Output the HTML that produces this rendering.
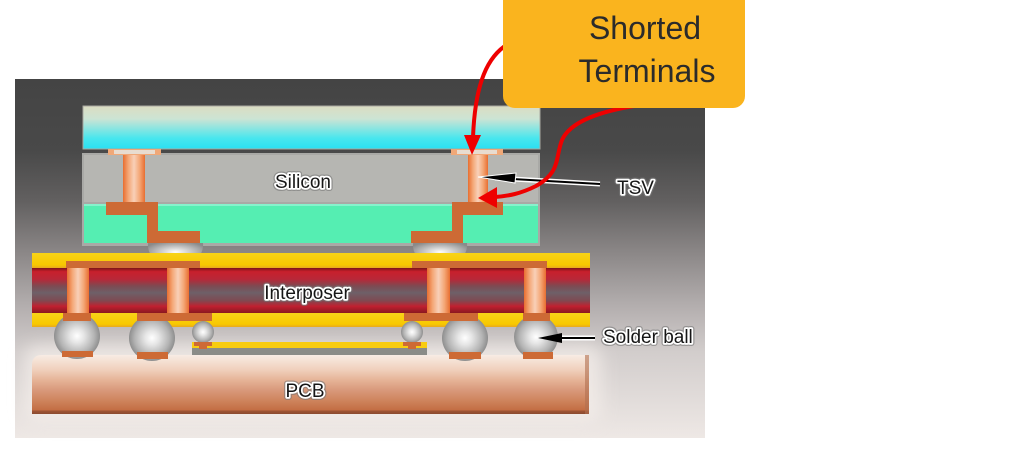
<!DOCTYPE html>
<html><head><meta charset="utf-8"><style>
html,body{margin:0;padding:0;background:#fff;}
svg{display:block;}
text{font-family:"Liberation Sans",Arial,sans-serif;}
</style></head><body>
<svg width="1013" height="457" viewBox="0 0 1013 457" xmlns="http://www.w3.org/2000/svg">
<defs>
<linearGradient id="bg" x1="0" y1="0" x2="0" y2="1">
<stop offset="0" stop-color="#444"/>
<stop offset="0.2" stop-color="#494949"/>
<stop offset="0.34" stop-color="#626060"/>
<stop offset="0.48" stop-color="#8a8686"/>
<stop offset="0.62" stop-color="#b0abab"/>
<stop offset="0.76" stop-color="#d2cdcc"/>
<stop offset="1" stop-color="#eee8e5"/>
</linearGradient>
<linearGradient id="glass" x1="0" y1="0" x2="0" y2="1">
<stop offset="0" stop-color="#dcdcc2"/>
<stop offset="0.3" stop-color="#cce4d4"/>
<stop offset="0.75" stop-color="#48e6ee"/>
<stop offset="1" stop-color="#2ae0f2"/>
</linearGradient>
<linearGradient id="mid" x1="0" y1="0" x2="0" y2="1">
<stop offset="0" stop-color="#7a1418"/>
<stop offset="0.08" stop-color="#c8202c"/>
<stop offset="0.25" stop-color="#b82838"/>
<stop offset="0.4" stop-color="#7e4a52"/>
<stop offset="0.55" stop-color="#6e6068"/>
<stop offset="0.72" stop-color="#7e4a52"/>
<stop offset="0.85" stop-color="#c02030"/>
<stop offset="1" stop-color="#8a1820"/>
</linearGradient>
<linearGradient id="yel" x1="0" y1="0" x2="0" y2="1">
<stop offset="0" stop-color="#f8d418"/>
<stop offset="0.8" stop-color="#f8c800"/>
<stop offset="1" stop-color="#e8a820"/>
</linearGradient>
<linearGradient id="pil" x1="0" y1="0" x2="1" y2="0">
<stop offset="0" stop-color="#e86e30"/>
<stop offset="0.25" stop-color="#f4a878"/>
<stop offset="0.5" stop-color="#f8d0b8"/>
<stop offset="0.75" stop-color="#f4a878"/>
<stop offset="1" stop-color="#e86e30"/>
</linearGradient>
<linearGradient id="pcb" x1="0" y1="0" x2="0" y2="1">
<stop offset="0" stop-color="#f8ece4"/>
<stop offset="0.25" stop-color="#f0d0bc"/>
<stop offset="0.42" stop-color="#e6b498"/>
<stop offset="0.6" stop-color="#d8987a"/>
<stop offset="0.8" stop-color="#cc8058"/>
<stop offset="0.93" stop-color="#c46e44"/>
<stop offset="0.95" stop-color="#9e5434"/>
<stop offset="1" stop-color="#8a4a30"/>
</linearGradient>
<radialGradient id="ball" cx="0.5" cy="0.5" r="0.5">
<stop offset="0" stop-color="#ffffff"/>
<stop offset="0.3" stop-color="#e6e6e6"/>
<stop offset="0.75" stop-color="#b4b4b4"/>
<stop offset="1" stop-color="#8e8e8e"/>
</radialGradient>
<radialGradient id="bump" cx="0.5" cy="0.5" r="0.6">
<stop offset="0" stop-color="#ffffff"/>
<stop offset="0.4" stop-color="#d0d0d0"/>
<stop offset="1" stop-color="#8a8a8a"/>
</radialGradient>
<filter id="blur" x="-10%" y="-30%" width="120%" height="160%">
<feGaussianBlur stdDeviation="8"/>
</filter>
</defs>

<!-- panel -->
<rect x="15" y="79" width="690" height="359" fill="url(#bg)"/>
<rect x="24" y="345" width="578" height="78" rx="14" fill="#f4eeea" opacity="0.75" filter="url(#blur)"/>

<!-- top die -->
<rect x="83" y="106" width="457" height="43" fill="url(#glass)" stroke="#a8a8a0" stroke-width="1"/>
<rect x="82" y="153" width="458" height="93" fill="#a9a9a6"/>
<rect x="84" y="155" width="454" height="47" fill="#b6b6b2"/>
<rect x="84" y="204" width="454" height="39" fill="#55eeb2"/>
<rect x="84" y="204" width="454" height="2" fill="#86f2cc"/>

<!-- left TSV -->
<rect x="108" y="149" width="53" height="6" fill="#f0a878"/>
<rect x="114" y="150" width="41" height="4" fill="#e8dcd0"/>
<rect x="123" y="155" width="22" height="48" fill="url(#pil)"/>
<rect x="106" y="202" width="52" height="13" fill="#cd6a35"/>
<rect x="147" y="214" width="11" height="19" fill="#cd6a35"/>
<rect x="147" y="231" width="53" height="12" fill="#cd6a35"/>

<!-- right TSV -->
<rect x="451" y="149" width="52" height="6" fill="#f0a878"/>
<rect x="457" y="150" width="40" height="4" fill="#e8dcd0"/>
<rect x="468" y="155" width="20" height="48" fill="url(#pil)"/>
<rect x="452" y="202" width="51" height="13" fill="#cd6a35"/>
<rect x="452" y="214" width="11" height="19" fill="#cd6a35"/>
<rect x="411" y="231" width="52" height="12" fill="#cd6a35"/>

<!-- micro bumps -->
<path d="M148,243 L203,243 Q204,254 194,261 L157,261 Q147,254 148,243 Z" fill="url(#bump)"/>
<path d="M413,243 L467,243 Q468,254 458,261 L422,261 Q412,254 413,243 Z" fill="url(#bump)"/>

<!-- interposer -->
<rect x="32" y="253" width="558" height="15" fill="url(#yel)"/>
<rect x="32" y="268" width="558" height="45" fill="url(#mid)"/>
<rect x="32" y="313" width="558" height="14" fill="url(#yel)"/>
<rect x="66" y="261" width="134" height="7" fill="#cd6a35"/>
<rect x="412" y="261" width="135" height="7" fill="#cd6a35"/>
<rect x="67" y="268" width="22" height="45" fill="url(#pil)"/>
<rect x="167" y="268" width="22" height="45" fill="url(#pil)"/>
<rect x="427" y="268" width="23" height="45" fill="url(#pil)"/>
<rect x="524" y="268" width="22" height="45" fill="url(#pil)"/>

<!-- small die substrate -->
<rect x="192" y="342" width="235" height="6" fill="#f8cc10"/>
<rect x="192" y="348" width="235" height="10" fill="#8a8c88"/>

<!-- PCB -->
<path d="M32,365 Q32,355 42,355 L589,355 L589,414 L32,414 Z" fill="url(#pcb)"/>
<rect x="585" y="355" width="4" height="59" fill="#b07050" opacity="0.6"/>

<!-- solder balls -->
<circle cx="77" cy="336" r="23" fill="url(#ball)"/>
<circle cx="152" cy="338" r="23" fill="url(#ball)"/>
<circle cx="465" cy="338" r="23" fill="url(#ball)"/>
<circle cx="536" cy="337" r="22" fill="url(#ball)"/>
<circle cx="203" cy="332" r="11" fill="url(#ball)"/>
<circle cx="412" cy="332" r="11" fill="url(#ball)"/>

<!-- bottom bars -->
<rect x="63" y="313" width="28" height="8" fill="#cd6a35"/>
<rect x="137" y="313" width="75" height="8" fill="#cd6a35"/>
<rect x="404" y="313" width="74" height="8" fill="#cd6a35"/>
<rect x="523" y="313" width="27" height="8" fill="#cd6a35"/>
<!-- pcb pads -->
<rect x="62" y="351" width="31" height="6" fill="#cd6a35"/>
<rect x="137" y="352" width="31" height="7" fill="#cd6a35"/>
<rect x="449" y="352" width="32" height="7" fill="#cd6a35"/>
<rect x="523" y="352" width="30" height="7" fill="#cd6a35"/>
<!-- small pads -->
<rect x="194" y="342" width="18" height="4" fill="#cd6a35"/>
<rect x="199" y="345" width="8" height="4" fill="#cd6a35"/>
<rect x="403" y="342" width="18" height="4" fill="#cd6a35"/>
<rect x="408" y="345" width="8" height="4" fill="#cd6a35"/>

<!-- labels -->
<g font-size="19" fill="none" stroke="#777" stroke-width="6" stroke-linejoin="round" opacity="0.6">
<text x="303" y="188" text-anchor="middle">Silicon</text>
<text x="307" y="299" text-anchor="middle">Interposer</text>
<text x="305" y="397" text-anchor="middle">PCB</text>
<text x="617" y="194">TSV</text>
<text x="603" y="343">Solder ball</text>
</g>
<g font-size="19" fill="#161616" stroke="#ffffff" stroke-width="3.5" paint-order="stroke" stroke-linejoin="round">
<text x="303" y="188" text-anchor="middle">Silicon</text>
<text x="307" y="299" text-anchor="middle">Interposer</text>
<text x="305" y="397" text-anchor="middle">PCB</text>
<text x="617" y="194">TSV</text>
<text x="603" y="343">Solder ball</text>
</g>

<!-- black arrows -->
<line x1="600" y1="184" x2="495" y2="178" stroke="#fff" stroke-width="5"/>
<line x1="600" y1="184" x2="495" y2="178" stroke="#000" stroke-width="2"/>
<polygon points="478,177 516,173 515,183" fill="#000" stroke="#fff" stroke-width="1"/>
<line x1="595" y1="338" x2="555" y2="338" stroke="#fff" stroke-width="5"/>
<line x1="595" y1="338" x2="555" y2="338" stroke="#000" stroke-width="2"/>
<polygon points="538,338 562,333 562,343" fill="#000"/>

<!-- red arrows -->
<path d="M508,44 C488,56 475,82 473,138" fill="none" stroke="#ee0000" stroke-width="4"/>
<polygon points="464,135 481,135 472,155" fill="#ee0000"/>
<path d="M648,104 C600,110 570,122 562,140 C555,158 561,172 536,186 C520,194 508,196 495,197" fill="none" stroke="#ee0000" stroke-width="4"/>
<polygon points="478,198 497,187 497,208" fill="#ee0000"/>

<!-- callout -->
<rect x="503" y="-12" width="242" height="120" rx="12" fill="#fab41e"/>
<text x="645" y="39" text-anchor="middle" font-size="32" fill="#2b2b2b">Shorted</text>
<text x="647" y="82" text-anchor="middle" font-size="32" fill="#2b2b2b">Terminals</text>
</svg>
</body></html>
